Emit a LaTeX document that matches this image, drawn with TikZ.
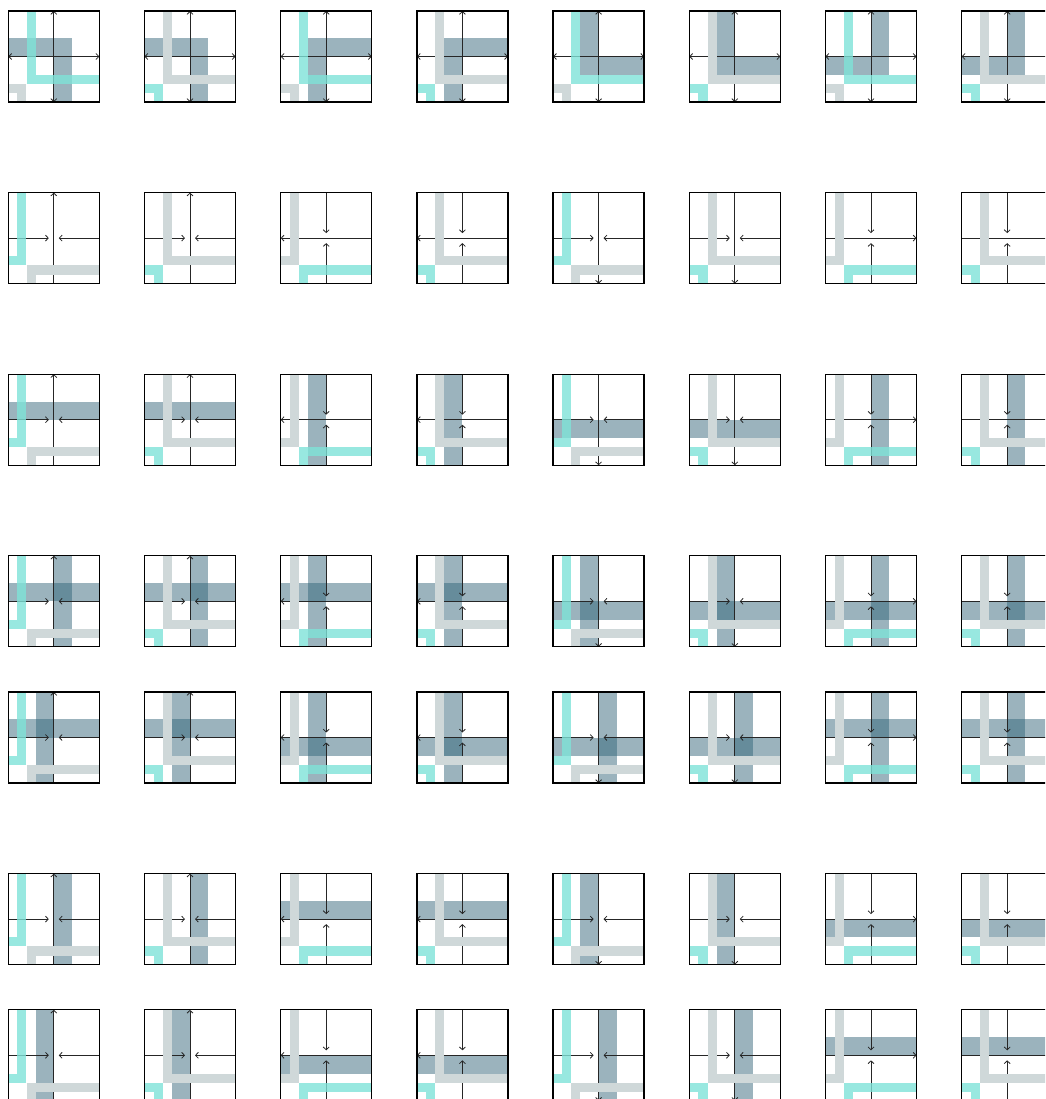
\documentclass[tikz,border=0pt]{standalone}
\usepackage{tikz}
\usetikzlibrary{arrows.meta}
\definecolor{aquaC}{RGB}{126,226,216}
\definecolor{paleC}{RGB}{207,216,217}
\definecolor{slateC}{RGB}{45,97,118}

\begin{document}
\begin{tikzpicture}[
    x=0.02cm, y=-0.02cm,
    >={Straight Barb[length=1.6pt,width=3.4pt]},
    frame/.style={draw=black, line width=0.7pt},
    axis/.style={draw=black!85, line width=0.45pt},
    dark band/.style={draw=slateC, draw opacity=0.48, line width=0.364cm, line join=miter},
    strand/.style={line width=0.182cm, line join=miter},
    aqua/.style={draw=aquaC, draw opacity=0.8},
    pale/.style={draw=paleC},
    % dark bands
    no band/.style={},
    hup/.style={insert path={(0,36.4) -- (91,36.4)}},
    hdn/.style={insert path={(0,54.6) -- (91,54.6)}},
    vlf/.style={insert path={(36.4,0) -- (36.4,91)}},
    vrt/.style={insert path={(54.6,0) -- (54.6,91)}},
    ws/.style={insert path={(0,36.4) -- (54.6,36.4) -- (54.6,91)}},
    es/.style={insert path={(91,36.4) -- (36.4,36.4) -- (36.4,91)}},
    ne/.style={insert path={(36.4,0) -- (36.4,54.6) -- (91,54.6)}},
    nw/.style={insert path={(54.6,0) -- (54.6,54.6) -- (0,54.6)}},
    % strands
    big L/.style={insert path={(22.75,0) -- (22.75,68.25) -- (91,68.25)}},
    small L/.style={insert path={(0,77.35) -- (13.65,77.35) -- (13.65,91)}},
    top L/.style={insert path={(13.65,0) -- (13.65,68.25) -- (0,68.25)}},
    low L/.style={insert path={(91,77.35) -- (22.75,77.35) -- (22.75,91)}},
    % axis arrows
    h out/.style={insert path={(w) edge[<->] (e)}},
    v out/.style={insert path={(s) edge[<->] (n)}},
    h in/.style={insert path={(w) edge[->] (cw) (e) edge[->] (ce)}},
    v in/.style={insert path={(n) edge[->] (cn) (s) edge[->] (cs)}},
    h lft/.style={insert path={(e) edge[->] (w)}},
    h rgt/.style={insert path={(w) edge[->] (e)}},
    v up/.style={insert path={(s) edge[->] (n)}},
    v dn/.style={insert path={(n) edge[->] (s)}}
  ]
\useasboundingbox (0,0) rectangle (1045,1099);
\clip (0,0) rectangle (1045,1099);

% first row
\foreach \x/\bnd/\cA/\cB in {8.3/ws/aqua/pale, 144.5/ws/pale/aqua, 280.7/es/aqua/pale, 416.9/es/pale/aqua,
    553.1/ne/aqua/pale, 689.3/ne/pale/aqua, 825.5/nw/aqua/pale, 961.7/nw/pale/aqua} {
  \begin{scope}[shift={(\x,11)}]
    \coordinate (w) at (0,45.5); \coordinate (e) at (91,45.5);
    \coordinate (n) at (45.5,0); \coordinate (s) at (45.5,91);
    \draw[dark band, \bnd];
    \draw[axis, h out, v out];
    \draw[strand, \cB, small L]; \draw[strand, \cA, big L];
    \draw[frame] (0,0) rectangle (91,91);
  \end{scope}
}

% other rows
\foreach \y/\ba/\bb/\bc/\bd/\ma/\mb/\mc/\md in {
    192.6/no band/no band/no band/no band/no band/no band/no band/no band,
    374.2/hup/vlf/hdn/vrt/no band/no band/no band/no band,
    555.8/hup/hup/hdn/hdn/vrt/vlf/vlf/vrt,
    692/hup/hdn/hdn/hup/vlf/vlf/vrt/vrt,
    873.6/vrt/hup/vlf/hdn/no band/no band/no band/no band,
    1009.8/vlf/hdn/vrt/hup/no band/no band/no band/no band} {
  \foreach \x/\bA/\bB/\ha/\va/\cA/\cB in {8.3/\ba/\ma/h in/v up/aqua/pale, 280.7/\bb/\mb/h lft/v in/pale/aqua,
      553.1/\bc/\mc/h in/v dn/aqua/pale, 825.5/\bd/\md/h rgt/v in/pale/aqua} {
    \foreach \dx/\la/\lb/\sa/\sb in {0/top L/low L/\cA/\cB, 136.2/big L/small L/pale/aqua} {
      \begin{scope}[shift={(\x+\dx,\y)}]
        \coordinate (w) at (0,45.5); \coordinate (e) at (91,45.5);
        \coordinate (n) at (45.5,0); \coordinate (s) at (45.5,91);
        \coordinate (cw) at (40.5,45.5); \coordinate (ce) at (50.5,45.5);
        \coordinate (cn) at (45.5,40.5); \coordinate (cs) at (45.5,50.5);
        \draw[dark band, \bA]; \draw[dark band, \bB];
        \draw[axis, \ha, \va];
        \draw[strand, \sb, \lb]; \draw[strand, \sa, \la];
        \draw[frame] (0,0) rectangle (91,91);
      \end{scope}
    }
  }
}
\end{tikzpicture}
\end{document}
